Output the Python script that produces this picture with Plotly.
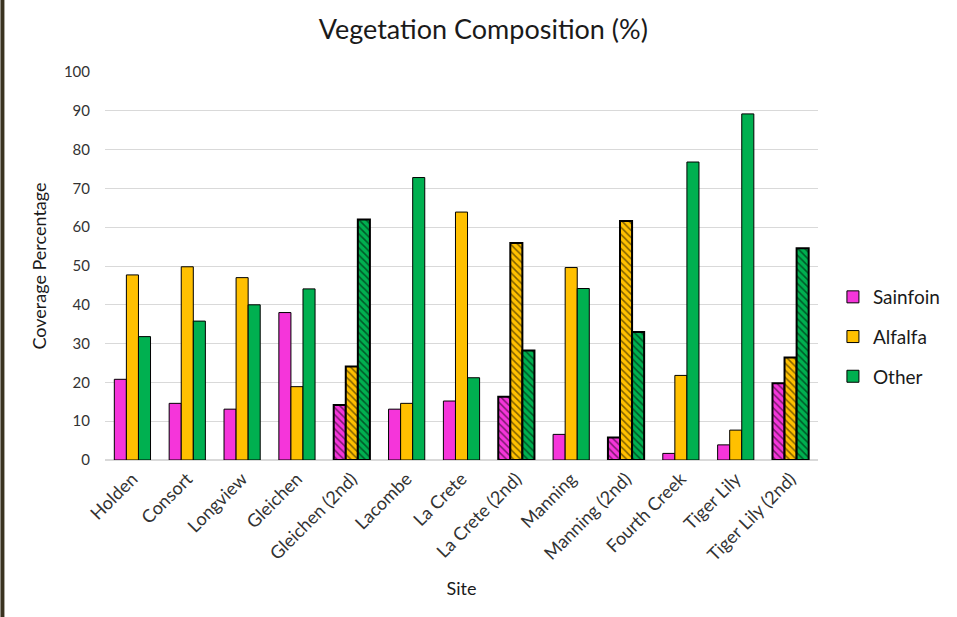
import plotly.graph_objects as go

sites = ["Holden", "Consort", "Longview", "Gleichen", "Gleichen (2nd)", "Lacombe",
         "La Crete", "La Crete (2nd)", "Manning", "Manning (2nd)", "Fourth Creek",
         "Tiger Lily", "Tiger Lily (2nd)"]
sainfoin = [20.8, 14.6, 13.1, 38.0, 14.2, 13.1, 15.2, 16.3, 6.6, 5.8, 1.7, 3.9, 19.8]
alfalfa = [47.7, 49.8, 47.0, 18.9, 24.1, 14.6, 63.9, 55.9, 49.6, 61.6, 21.8, 7.7, 26.4]
other = [31.8, 35.8, 40.0, 44.1, 62.0, 72.8, 21.2, 28.2, 44.2, 33.0, 76.8, 89.2, 54.6]

series_names = ["Sainfoin", "Alfalfa", "Other"]
series_values = [sainfoin, alfalfa, other]
colors = ["#F535DA", "#FFC000", "#00B050"]

second = ["(2nd)" in s for s in sites]
shapes_pat = ["\\" if s else "" for s in second]
line_w = [2 if s else 1 for s in second]

W, H = 957, 617
ML, MR, MT, MB = 105, 136, 72, 157
PW = W - ML - MR
PH = H - MT - MB

fig = go.Figure()
for name, vals, col in zip(series_names, series_values, colors):
    fig.add_trace(go.Bar(
        x=sites, y=vals, name=name, legendgroup=name,
        marker=dict(
            color=col,
            line=dict(color="black", width=line_w),
            pattern=dict(shape=shapes_pat, fgcolor="black", bgcolor=col,
                         size=5, solidity=0.3, fillmode="overlay"),
        ),
    ))

font_family = "Lato, 'Open Sans', sans-serif"
fig.update_layout(
    width=W, height=H,
    margin=dict(l=ML, r=MR, t=MT, b=MB),
    paper_bgcolor="white", plot_bgcolor="white",
    barmode="group", bargap=0.34, bargroupgap=0,
    title=dict(text="Vegetation Composition (%)", x=0.505, xanchor="center",
               y=1 - 30 / H, yanchor="middle",
               font=dict(family=font_family, size=27, color="#1a1a1a")),
    font=dict(family=font_family, color="#333333"),
    legend=dict(x=1 + (836 - (ML + PW)) / PW, xanchor="left",
                y=(460 - 337) / PH, yanchor="middle",
                font=dict(size=19, color="#1a1a1a"),
                bgcolor="rgba(0,0,0,0)", itemwidth=30, tracegroupgap=12),
    showlegend=True,
    shapes=[dict(type="rect", xref="paper", yref="paper",
                 x0=-ML / PW, x1=(4 - ML) / PW, y0=-MB / PH, y1=1 + MT / PH,
                 fillcolor="#3a3320", line=dict(width=0), layer="above")],
)
fig.update_yaxes(range=[0, 100], dtick=10, showgrid=True, gridcolor="#D9D9D9",
                 gridwidth=1, zeroline=True, zerolinecolor="#D9D9D9",
                 showline=False, ticks="", ticklabelstandoff=14,
                 tickfont=dict(size=15, color="#333333"),
                 title=dict(text="Coverage Percentage", standoff=12,
                            font=dict(size=18, color="#1a1a1a")))
fig.update_xaxes(tickangle=-45, showline=False, ticks="", ticklabelstandoff=4,
                 tickfont=dict(size=18, color="#333333"),
                 title=dict(text="Site", standoff=18,
                            font=dict(size=18, color="#1a1a1a")))

fig.write_html("out.html")
